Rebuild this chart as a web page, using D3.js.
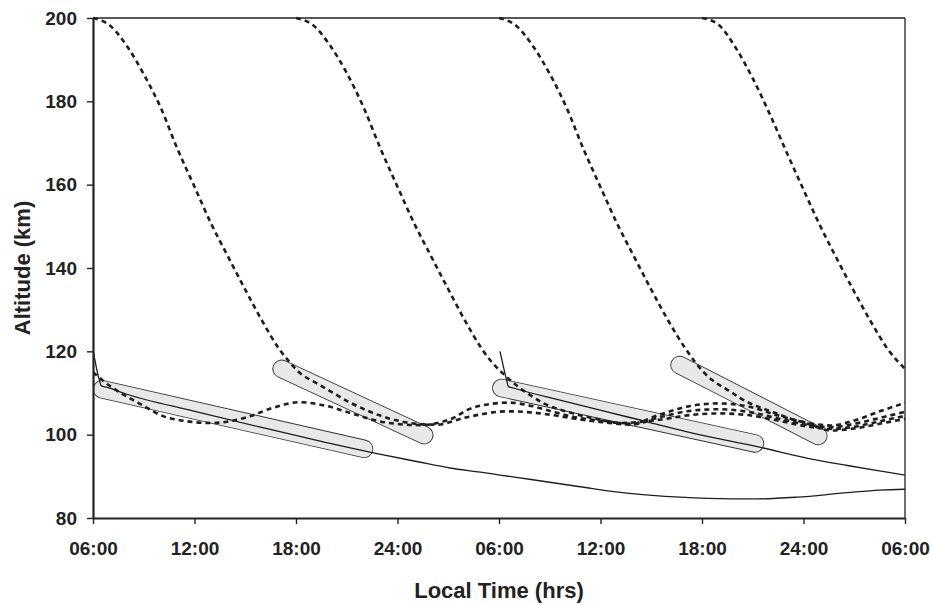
<!DOCTYPE html>
<html>
<head>
<meta charset="utf-8">
<script src="https://cdn.jsdelivr.net/npm/d3@7"></script>
<style>
  body { margin: 0; background: #fff; }
  svg { display: block; font-family: "Liberation Sans", Arial, sans-serif; }
  .axis text { font-size: 19px; font-weight: bold; fill: #222; }
  .axis path, .axis line { stroke: #222; }
  .title { font-size: 22px; font-weight: bold; fill: #222; }
</style>
</head>
<body>
<svg id="graphsvg" width="933" height="605"></svg>
<script>
// x values are hours after the first 06:00 local time, y values are altitude in km
var hourTicks = [0, 6, 12, 18, 24, 30, 36, 42, 48];
var timeLabels = ["06:00", "12:00", "18:00", "24:00", "06:00", "12:00", "18:00", "24:00", "06:00"];
var altTicks = [80, 100, 120, 140, 160, 180, 200];

// dashed trajectories (one starting at 200 km every 12 hrs, plus one already down at the start)
var dashPrev = [[0,115],[0.7,112.6],[2.6,107.8],[4.5,104],[7,102.8],[9.1,104.2],[10.6,106.4],[12.2,107.8],
  [13.8,106.9],[15.2,105.2],[17.2,103],[19.3,102.3],[21.3,104],[22.1,105.9],[23.4,107.3],[24.6,107.7],
  [26,106.8],[27.2,105.5],[28.5,104.2],[30.1,103.3],[31.8,102.6],[33.5,104.8],[35.3,106.9],[37,107.5],
  [38.7,106.8],[40.5,104.6],[42.3,102.8],[43.6,102.2],[45,103.4],[46.5,105.6],[48,107.6]];
var dash06a = [[0,200],[1,198.2],[2,193.3],[3,186.5],[4,178.5],[5,168.5],[6,159.5],[7,150.5],[8,142.6],
  [9,134.8],[10,127.3],[11,120.6],[11.6,117.5],[12.2,114.9],[13.2,112.4],[14.2,110],[15.2,107.7],[16.2,105.8],
  [17.1,104.4],[18.1,103.3],[19.1,102.6],[20.3,102.4],[22.1,104.2],[24.5,105.6],[26,105.3],
  [27.2,104.7],[28.5,103.8],[30.1,103],[31.8,102.4],[33.5,104.2],[35.5,105.8],[37,106.1],[38.7,105.5],
  [40.5,103.9],[42.3,102.3],[43.6,101.8],[45,102.6],[46.5,104],[48,105.5]];
var dash18a = [[12,200],[13,198.3],[14,193.5],[15,186.8],[16,178.5],[17,168.6],[18,159.5],[19,150.6],
  [20,142.7],[21,134.9],[22,127.3],[23,120.5],[23.6,117.3],[24.2,114.8],[25.1,111.6],[25.8,109.6],
  [26.6,107.6],[28.2,105.3],[29.6,103.9],[31.2,102.8],[33.5,103.6],[35.3,104.7],[37,105.1],[38.7,104.7],
  [40.5,103.4],[42.3,101.9],[43.6,101.4],[45,101.9],[46.5,103.2],[48,104.5]];
var dash06b = [[24,200],[25,198.2],[26,193.3],[27,186.6],[28,178.4],[29,168.5],[30,159.4],[31,150.5],
  [32,142.6],[33,134.8],[34,127.4],[35,120.8],[35.6,117.4],[36.1,115],[36.6,113.1],[37.2,111.5],
  [37.7,110.3],[38.2,108.9],[38.8,107.6],[40.2,105.4],[41.2,103.9],[42.2,102.7],[43.6,101],[45,101.5],
  [46.5,102.6],[48,103.8]];
var dash18b = [[36,200],[37,198.3],[38,192.8],[39,185.5],[40,177],[41,167.8],[42,158.8],[43,150],
  [44,142],[45,134.3],[46,127],[47,120.4],[48,115.8]];
var dashSeries = [dashPrev, dash06a, dash18a, dash06b, dash18b];

// solid trajectories
var solidA = [[0,120.3],[0.35,113.5],[0.5,111.7],[0.8,111.4],[2,109.7],[5.9,105.7],[9.9,101.8],[13.8,98.1],
  [16.5,95.7],[19.2,93.5],[21.1,92],[22.9,91],[24.06,90.3],[25.8,89.3],[28.8,87.5],[31.7,85.9],[34.7,85],
  [37.7,84.6],[39.3,84.6],[41.6,85],[44.6,86.1],[46.5,86.7],[48,86.9]];
var solidB = [[24.06,120],[24.45,113.1],[24.55,111.6],[24.85,111.2],[27.6,108.3],[31.55,104.3],[35.5,100.3],
  [39.4,97],[42.4,94.2],[44.6,92.6],[46.5,91.3],[48,90.3]];
var solidSeries = [solidA, solidB];

// shaded bands: [start hour, start km, end hour, end km]
var bands = [[0.53,110.9,16.02,96.6],[11.15,115.8,19.58,99.9],[24.14,111.2,39.13,97.9],[34.68,116.7,42.87,99.7]];

function app() {
  var svg = d3.select("#graphsvg"),
      margin = {top: 18, right: 28, bottom: 87, left: 93},
      width = +svg.attr("width") - margin.left - margin.right,
      height = +svg.attr("height") - margin.top - margin.bottom;

  var x = d3.scaleLinear().domain([0, 48]).range([0, width]);
  var y = d3.scaleLinear().domain([80, 200]).range([height, 0]);

  var g = svg.append("g")
      .attr("transform", "translate(" + margin.left + "," + margin.top + ")");

  g.append("clipPath").attr("id", "plotclip")
    .append("rect").attr("x", 0).attr("y", -3).attr("width", width).attr("height", height + 3);

  var plot = g.append("g").attr("clip-path", "url(#plotclip)");

  var bandLine = function(d) { return "M" + x(d[0]) + "," + y(d[1]) + "L" + x(d[2]) + "," + y(d[3]); };

  plot.selectAll(".band-edge")
      .data(bands)
    .enter().append("path")
      .attr("class", "band-edge")
      .attr("d", bandLine)
      .attr("stroke", "#333")
      .attr("stroke-width", 18.5)
      .attr("stroke-linecap", "round");

  plot.selectAll(".band-fill")
      .data(bands)
    .enter().append("path")
      .attr("class", "band-fill")
      .attr("d", bandLine)
      .attr("stroke", "#e7e8e8")
      .attr("stroke-width", 16.8)
      .attr("stroke-linecap", "round");

  var line = d3.line()
      .x(function(d) { return x(d[0]); })
      .y(function(d) { return y(d[1]); })
      .curve(d3.curveMonotoneX);

  plot.selectAll(".dashed")
      .data(dashSeries)
    .enter().append("path")
      .attr("class", "dashed")
      .attr("d", line)
      .attr("fill", "none")
      .attr("stroke", "#1e1e1e")
      .attr("stroke-width", 2.6)
      .attr("stroke-dasharray", "5,4");

  plot.selectAll(".solid")
      .data(solidSeries)
    .enter().append("path")
      .attr("class", "solid")
      .attr("d", line)
      .attr("fill", "none")
      .attr("stroke", "#1e1e1e")
      .attr("stroke-width", 1.3);

  // frame (top and right are thin)
  g.append("line").attr("x1", 0).attr("x2", width).attr("y1", 0).attr("y2", 0)
      .attr("stroke", "#222").attr("stroke-width", 1.3);
  g.append("line").attr("x1", width).attr("x2", width).attr("y1", 0).attr("y2", height)
      .attr("stroke", "#222").attr("stroke-width", 1.3);

  var xAxis = g.append("g")
      .attr("class", "x axis")
      .attr("transform", "translate(0," + height + ")")
      .call(d3.axisBottom(x).tickValues(hourTicks)
        .tickFormat(function(d, i) { return timeLabels[i]; })
        .tickSizeInner(6).tickSizeOuter(0).tickPadding(18));
  xAxis.select(".domain").attr("stroke-width", 2.2);
  xAxis.selectAll(".tick line").attr("stroke-width", 1.4);

  var yAxis = g.append("g")
      .attr("class", "y axis")
      .call(d3.axisLeft(y).tickValues(altTicks)
        .tickSizeInner(6).tickSizeOuter(0).tickPadding(10));
  yAxis.select(".domain").attr("stroke-width", 2.2);
  yAxis.selectAll(".tick line").attr("stroke-width", 1.4);
  svg.selectAll(".axis text").attr("font-family", null).attr("font-size", null);

  svg.append("text")
      .attr("class", "title")
      .attr("text-anchor", "middle")
      .attr("x", margin.left + width / 2)
      .attr("y", 598)
      .text("Local Time (hrs)");

  svg.append("text")
      .attr("class", "title")
      .attr("text-anchor", "middle")
      .attr("transform", "translate(30," + (margin.top + height / 2) + ") rotate(-90)")
      .text("Altitude (km)");
}

document.addEventListener("DOMContentLoaded", app);
</script>
</body>
</html>
